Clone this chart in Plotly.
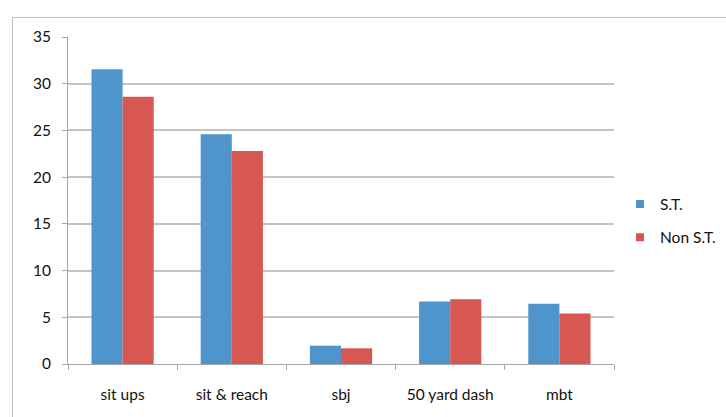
import plotly.graph_objects as go

categories = ["sit ups", "sit & reach", "sbj", "50 yard dash", "mbt"]
st_values = [31.55, 24.6, 1.96, 6.68, 6.46]
non_st_values = [28.6, 22.8, 1.68, 6.92, 5.4]
series_names = ["S.T.", "Non S.T."]
y_ticks = [0, 5, 10, 15, 20, 25, 30, 35]

BLUE = "#4F94CB"
RED = "#D75752"
GRID = "#C4C4C4"
AXIS = "#A6A6A6"
TEXT = "#111111"
FONT = "Lato"
FS = 15.5

fig = go.Figure()
for name, vals, col in [(series_names[0], st_values, BLUE),
                        (series_names[1], non_st_values, RED)]:
    fig.add_trace(go.Bar(x=categories, y=vals, name=name, showlegend=False,
                         legendgroup=name,
                         marker=dict(color=col, line=dict(width=0))))
# small square legend keys
for name, col in [(series_names[0], BLUE), (series_names[1], RED)]:
    fig.add_trace(go.Scatter(x=[None], y=[None], mode="markers", name=name,
                             legendgroup=name,
                             marker=dict(symbol="square", size=8, color=col)))

W, H = 726, 417
L, R, T, B = 68, 112, 37, 53
pw, ph = W - L - R, H - T - B

def px_x(p):
    return (p - L) / pw

def px_y(p):
    return (H - B - p) / ph

fig.update_layout(
    width=W, height=H,
    margin=dict(l=L, r=R, t=T, b=B, autoexpand=False),
    paper_bgcolor="white", plot_bgcolor="white",
    barmode="group", bargap=0.43, bargroupgap=0,
    font=dict(family=FONT, size=FS, color=TEXT),
    legend=dict(x=px_x(620), y=px_y(221), xanchor="left", yanchor="middle",
                font=dict(family=FONT, size=FS, color=TEXT),
                tracegroupgap=10, itemwidth=30, bgcolor="rgba(0,0,0,0)"),
    showlegend=True,
)
fig.update_xaxes(
    showline=True, linecolor=AXIS, linewidth=1,
    ticks="outside", ticklen=5, tickcolor=AXIS, tickson="boundaries",
    ticklabelstandoff=16, showgrid=False,
    tickfont=dict(family=FONT, size=FS, color=TEXT),
)
fig.update_yaxes(
    range=[0, 35], tickvals=y_ticks,
    showline=True, linecolor=AXIS, linewidth=1,
    ticks="outside", ticklen=5, tickcolor=AXIS,
    ticklabelstandoff=8,
    showgrid=True, gridcolor=GRID, gridwidth=1.5, zeroline=False,
    tickfont=dict(family=FONT, size=FS, color=TEXT),
)

# chart-area frame: left and top edges
fig.add_shape(type="line", xref="paper", yref="paper",
              x0=px_x(12.5), x1=px_x(12.5), y0=px_y(420), y1=px_y(17.5),
              line=dict(color="#BDBDBD", width=1))
fig.add_shape(type="line", xref="paper", yref="paper",
              x0=px_x(12.5), x1=px_x(730), y0=px_y(17.5), y1=px_y(17.5),
              line=dict(color="#BDBDBD", width=1))

fig.write_html("out.html")
